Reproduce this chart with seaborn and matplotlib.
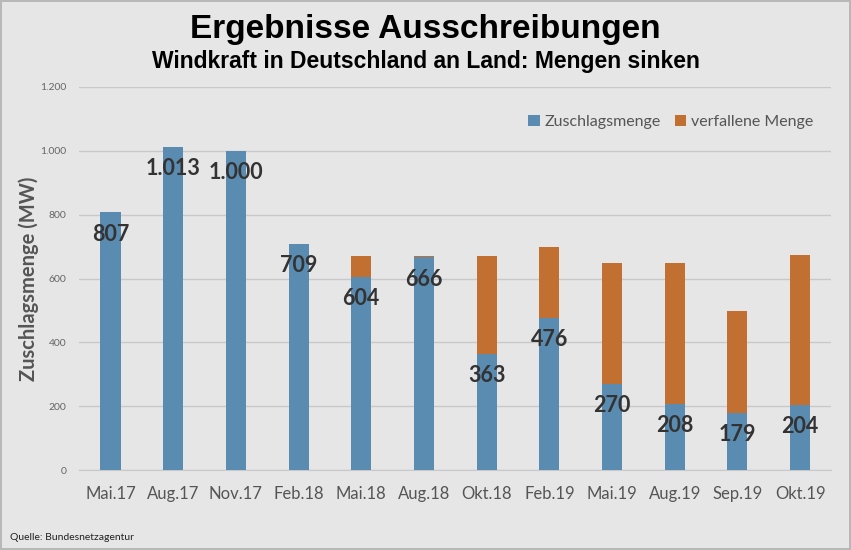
import matplotlib.pyplot as plt
import seaborn as sns
import pandas as pd

# Tender rounds, onshore wind, Germany
rounds = ['Mai.17', 'Aug.17', 'Nov.17', 'Feb.18', 'Mai.18', 'Aug.18',
          'Okt.18', 'Feb.19', 'Mai.19', 'Aug.19', 'Sep.19', 'Okt.19']
awarded = [807, 1013, 1000, 709, 604, 666, 363, 476, 270, 208, 179, 204]
tendered = [807, 1013, 1000, 709, 670, 670, 670, 700, 650, 650, 500, 675]
y_ticks = [0, 200, 400, 600, 800, 1000, 1200]

BG = '#e6e6e6'
BLUE = '#5a8bb1'
ORANGE = '#c17031'

df = pd.DataFrame({'round': rounds, 'awarded': awarded, 'total': tendered})


def de_fmt(v):
    return f'{v:,}'.replace(',', '.')


sns.set_style('white')
plt.rcParams['font.family'] = ['Lato', 'DejaVu Sans']

fig = plt.figure(figsize=(8.51, 5.5), dpi=100, facecolor=BG)
fig.patch.set_edgecolor('#b8b8b8')
fig.patch.set_linewidth(1.5)
ax = fig.add_axes([0.093, 0.145, 0.884, 0.697])
ax.set_facecolor(BG)

sns.barplot(data=df, x='round', y='total', color=ORANGE, width=0.32,
            saturation=1, linewidth=0, ax=ax, label='verfallene Menge', zorder=2)
sns.barplot(data=df, x='round', y='awarded', color=BLUE, width=0.32,
            saturation=1, linewidth=0, ax=ax, label='Zuschlagsmenge', zorder=3)

for i, v in enumerate(awarded):
    ax.annotate(de_fmt(v), (i, v), xytext=(0, -8), textcoords='offset points',
                ha='center', va='top', fontsize=15.5, fontweight='bold',
                color='#333333', zorder=4)

ax.set_ylim(0, 1200)
ax.set_xlim(-0.5, len(rounds) - 0.5)
ax.set_yticks(y_ticks)
ax.set_yticklabels([de_fmt(t) for t in y_ticks])
ax.set_xticks([i + 0.5 for i in range(-1, len(rounds))], minor=True)
ax.yaxis.grid(True, color='#c8c8c8', linewidth=1, zorder=0)
ax.set_axisbelow(True)
for s in ['top', 'right', 'left']:
    ax.spines[s].set_visible(False)
ax.spines['bottom'].set_color('#c8c8c8')
ax.tick_params(axis='y', length=0, labelsize=7.5, colors='#666666', pad=9)
ax.tick_params(axis='x', which='major', length=0, labelsize=12,
               colors='#555555', pad=11)
ax.tick_params(axis='x', which='minor', length=5, color='#c8c8c8', width=1)
ax.set_xlabel('')
ax.set_ylabel('Zuschlagsmenge (MW)', fontsize=14.5, color='#555555',
              fontweight='bold', labelpad=1)

handles, labels = ax.get_legend_handles_labels()
order = [labels.index('Zuschlagsmenge'), labels.index('verfallene Menge')]
ax.legend([handles[k] for k in order], [labels[k] for k in order],
          loc='upper right', bbox_to_anchor=(0.995, 0.965), ncol=2, frameon=False,
          fontsize=11.5, labelcolor='#555555', handlelength=0.7,
          handleheight=0.7, handletextpad=0.3, columnspacing=0.9)

title_font = ['Liberation Sans Narrow', 'Liberation Sans', 'DejaVu Sans']
fig.text(0.5, 0.947, 'Ergebnisse Ausschreibungen', ha='center', va='center',
         fontsize=24, fontweight='bold', color='black', family=title_font)
fig.text(0.5, 0.888, 'Windkraft in Deutschland an Land: Mengen sinken',
         ha='center', va='center', fontsize=16.5, fontweight='bold',
         color='black', family=title_font)
fig.text(0.012, 0.022, 'Quelle: Bundesnetzagentur', ha='left', va='center',
         fontsize=7.5, color='#222222')

fig.savefig('out.png', dpi=100, facecolor=BG, edgecolor='#b8b8b8')
plt.close(fig)
